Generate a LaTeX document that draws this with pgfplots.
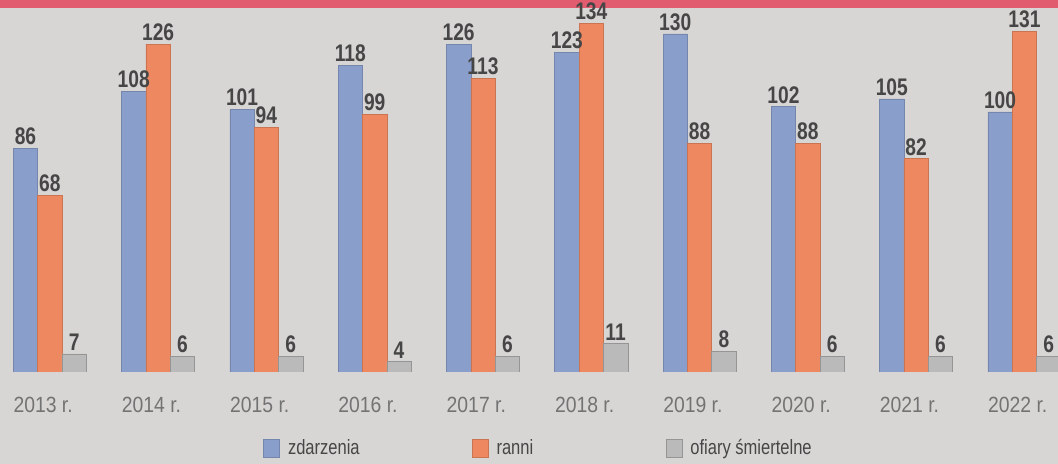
\documentclass[border=0pt]{standalone}
\usepackage{pgfplots}
\pgfplotsset{compat=1.18}
\usepackage{fontspec}
\setmainfont{Liberation Sans}
\newfontfamily\cond[FakeStretch=0.80]{Liberation Sans}
\newfontfamily\condl[FakeStretch=0.88]{Liberation Sans}
\definecolor{paper}{RGB}{216,214,212}
\definecolor{redband}{RGB}{226,92,112}
\definecolor{cblue}{RGB}{138,158,204}
\definecolor{corange}{RGB}{238,136,96}
\definecolor{cgray}{RGB}{186,186,186}
\definecolor{labtxt}{RGB}{70,70,70}
\definecolor{ticktxt}{RGB}{115,115,115}
\begin{document}
\begin{tikzpicture}
\fill[paper] (0pt,0pt) rectangle (793.5pt,348pt);
\useasboundingbox (0pt,0pt) rectangle (793.5pt,348pt);
\fill[redband] (0pt,342pt) rectangle (793.5pt,348pt);
\begin{axis}[
  at={(0pt,69pt)}, anchor=south west,
  scale only axis, width=793.5pt, height=279pt,
  xmin=-0.46, xmax=9.31, ymin=0, ymax=143,
  ybar=0pt, bar width=0.225,
  axis line style={draw=none}, major tick length=0pt,
  ytick=\empty,
  xtick={0,...,9},
  xticklabels={2013 r.,2014 r.,2015 r.,2016 r.,2017 r.,2018 r.,2019 r.,2020 r.,2021 r.,2022 r.},
  xticklabel style={font=\condl\fontsize{16.5}{18}\selectfont, text=ticktxt, yshift=-15pt, xshift=-5pt},
  /pgf/number format/assume math mode=true,
  nodes near coords,
  every node near coord/.append style={font=\cond\bfseries\fontsize{18}{20}\selectfont, text=labtxt, yshift=-1pt},
  legend columns=3,
  legend style={draw=none, fill=none, at={(0.245,-0.205)}, anchor=west,
     font=\cond\fontsize{15.5}{17}\selectfont, text=labtxt,
     /tikz/every odd column/.append style={column sep=4pt}},
  legend image code/.code={\fill[#1] (0pt,-6.5pt) rectangle (12pt,7pt);},
]
\addplot[fill=cblue, draw=cblue!85!black] coordinates {(0,86) (1,108) (2,101) (3,118) (4,126) (5,123) (6,130) (7,102) (8,105) (9,100)};
\addplot[fill=corange, draw=corange!85!black] coordinates {(0,68) (1,126) (2,94) (3,99) (4,113) (5,134) (6,88) (7,88) (8,82) (9,131)};
\addplot[fill=cgray, draw=cgray!80!black] coordinates {(0,7) (1,6) (2,6) (3,4) (4,6) (5,11) (6,8) (7,6) (8,6) (9,6)};
\legend{\makebox[136pt][l]{zdarzenia},\makebox[125pt][l]{ranni},ofiary śmiertelne}
\end{axis}
\end{tikzpicture}
\end{document}
